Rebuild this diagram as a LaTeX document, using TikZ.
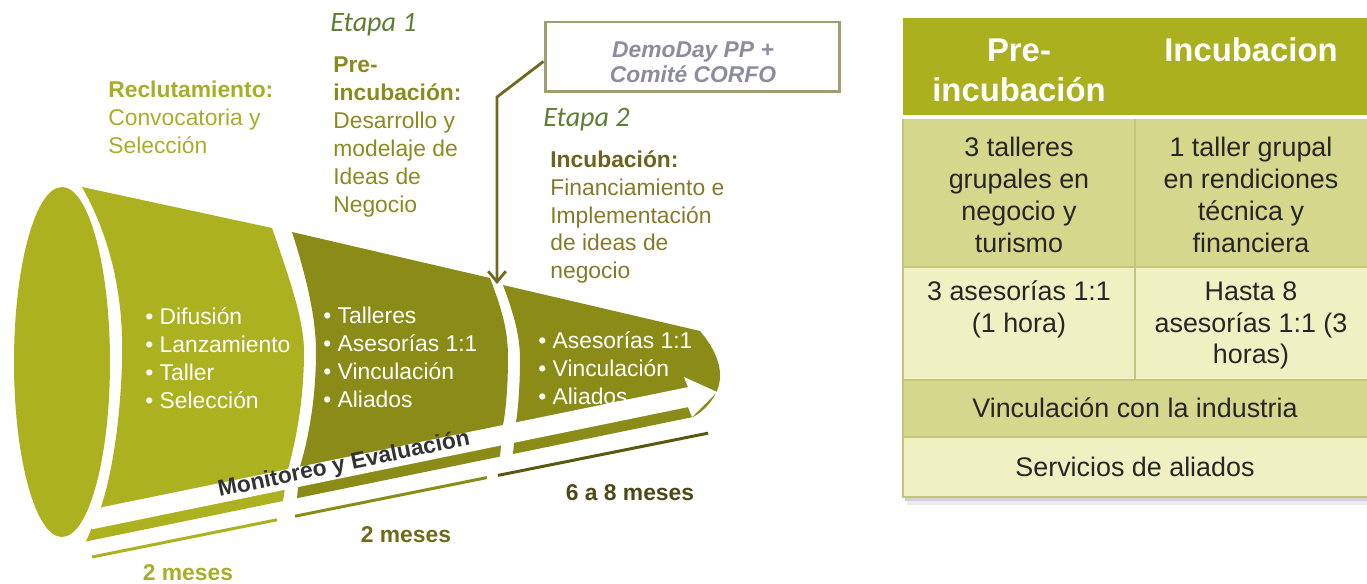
\documentclass[tikz,border=0pt]{standalone}
\usepackage{fontspec}
\setmainfont{Liberation Sans}
\newfontfamily\etapafont{Carlito}
\usepackage{tikz}
\usetikzlibrary{arrows.meta}
\usepackage{xcolor}

\definecolor{segA}{HTML}{ACB120}
\definecolor{segB}{HTML}{8A8C17}
\definecolor{lineC}{HTML}{5A5810}
\definecolor{txtA}{HTML}{A8AD28}
\definecolor{txtB}{HTML}{8A8A1E}
\definecolor{txtC}{HTML}{6D6220}
\definecolor{txtCbody}{HTML}{85792A}
\definecolor{etapagreen}{HTML}{5E7F33}
\definecolor{boxline}{HTML}{9E9E70}
\definecolor{boxtext}{HTML}{8C8C9E}
\definecolor{connol}{HTML}{6F6B1E}
\definecolor{mesB}{HTML}{6E6B1A}
\definecolor{mesC}{HTML}{4D4818}
\definecolor{thead}{HTML}{ABB11E}
\definecolor{trowA}{HTML}{D5D78D}
\definecolor{trowB}{HTML}{EFF1C3}
\definecolor{tgrid}{HTML}{C2C57A}

\begin{document}
\begin{tikzpicture}[x=0.02cm, y=-0.02cm, >={Straight Barb[length=6pt, width=10pt]},
  txtblock/.style={anchor=west, align=left, inner sep=0pt, font=\fontsize{13}{15.9}\selectfont},
  bullets/.style={txtblock, text=white},
  etapa/.style={anchor=west, inner sep=0pt, text=etapagreen, font=\etapafont\itshape\fontsize{16}{19}\selectfont},
  meses/.style={inner sep=0pt, font=\bfseries\fontsize{13}{15.9}\selectfont},
  demobox/.style={draw=boxline, line width=1.7pt, minimum width=5.9cm, minimum height=1.4cm},
  demotext/.style={align=center, inner sep=0pt, text=boxtext, font=\bfseries\itshape\fontsize{13}{14.2}\selectfont},
  cell/.style={align=center, inner sep=0pt, text=black!85, font=\fontsize{15.3}{18.1}\selectfont},
  headcell/.style={align=center, inner sep=0pt, text=white, font=\bfseries\fontsize{18.7}{22.7}\selectfont}]
  \useasboundingbox (0,0) rectangle (1367,584);

  % embudo
  \fill[segA] (62,362) ellipse [x radius=0.96cm, y radius=3.5cm];
  \fill[segA] (82,187) -- (272,228) .. controls (290,280) and (304,320) .. (304,352)
    .. controls (304,400) and (296,440) .. (288,469.5) -- (283,501) -- (86,541.5)
    -- (101,507) .. controls (110,480) and (120,430) .. (122,362)
    .. controls (124,300) and (112,240) .. (82,187) -- cycle;
  \fill[segB] (292,232) -- (490,278) .. controls (502,310) and (508,330) .. (508,357)
    .. controls (508,385) and (506,410) .. (503,425) -- (500,456.6) -- (297,498.2)
    -- (300,466.6) .. controls (308,440) and (316,400) .. (316,352)
    .. controls (316,320) and (308,282) .. (292,232) -- cycle;
  \fill[segB] (503,285) -- (700,331) .. controls (712,345) and (721,362) .. (720,378)
    .. controls (719,395) and (706,410) .. (693,417) -- (513,454)
    -- (516,422.3) .. controls (518,410) and (520,385) .. (520,360)
    .. controls (520,335) and (514,315) .. (503,285) -- cycle;
  % flecha blanca
  \fill[white] (92,509.3) -- (688,387.1) -- (684,377) -- (717,392) -- (692,417)
    -- (688,407.1) -- (92,529.3) -- cycle;

  \draw[segA, line width=1.7pt] (92,557) -- (277,519.8);
  \draw[segB, line width=1.7pt] (295,516.2) -- (487,477.6);
  \draw[lineC, line width=1.7pt] (498,475.4) -- (708,433.2);

  \node[etapa] (etapa1) at (330,25) {Etapa 1};
  \node[etapa] (etapa2) at (543,120) {Etapa 2};

  \node[txtblock, text=txtA] (reclut) at (108,117) {\textbf{Reclutamiento:}\\Convocatoria y\\Selección};
  \node[txtblock, text=txtB] (preinc) at (333,137) {\textbf{Pre-}\\\textbf{incubación:}\\Desarrollo y\\modelaje de\\Ideas de\\Negocio};
  \node[txtblock, text=txtCbody] (incub) at (550,217) {\textcolor{txtC}{\textbf{Incubación:}}\\Financiamiento e\\Implementación\\de ideas de\\negocio};

  \node[bullets] (lista1) at (145,358) {• Difusión\\• Lanzamiento\\• Taller\\• Selección};
  \node[bullets] (lista2) at (323,357.5) {• Talleres\\• Asesorías 1:1\\• Vinculación\\• Aliados};
  \node[bullets] (lista3) at (538,368) {• Asesorías 1:1\\• Vinculación\\• Aliados};

  \node[meses, text=black!80, rotate=11.7] (monit) at (344,465) {Monitoreo y Evaluación};
  \node[meses, text=txtA] (mes1) at (188,573) {2 meses};
  \node[meses, text=mesB] (mes2) at (406,535) {2 meses};
  \node[meses, text=mesC] (mes3) at (630,493) {6 a 8 meses};

  \node[demobox] (box) at (692.5,57) {};
  \node[demotext] (boxtxt) at (693,62) {DemoDay PP +\\Comité CORFO};
  \coordinate (bend) at (497,97);
  \coordinate (tip) at (497,284);
  \draw[->, connol, line width=1.6pt] ([yshift=-2.5pt]box.west) -- (bend) -- (tip);

  % tabla
  \fill[black!18] (905,497) rectangle (1367,501);
  \fill[black!8] (907,501) rectangle (1367,505);
  \fill[thead] (903,18) rectangle (1367,115);
  \fill[trowA] (903,119) rectangle (1367,267);
  \fill[trowB] (903,267) rectangle (1367,380);
  \fill[trowA] (903,380) rectangle (1367,437);
  \fill[trowB] (903,437) rectangle (1367,497);
  \draw[tgrid, line width=0.6pt] (903,267) -- (1367,267) (903,380) -- (1367,380)
    (903,437) -- (1367,437) (1135,119) -- (1135,380) (903,119) -- (903,497) -- (1367,497);

  \node[headcell] (hpre) at (1019,70) {Pre-\\incubación};
  \node[headcell] (hinc) at (1251,50) {Incubacion};
  \node[cell] (r1a) at (1019,195) {3 talleres\\grupales en\\negocio y\\turismo};
  \node[cell] (r1b) at (1251,195) {1 taller grupal\\en rendiciones\\técnica y\\financiera};
  \node[cell] (r2a) at (1019,309) {3 asesorías 1:1\\(1 hora)};
  \node[cell] (r2b) at (1251,325.5) {Hasta 8\\asesorías 1:1 (3\\horas)};
  \node[cell] (r3) at (1135,408) {Vinculación con la industria};
  \node[cell] (r4) at (1135,467) {Servicios de aliados};
\end{tikzpicture}
\end{document}
